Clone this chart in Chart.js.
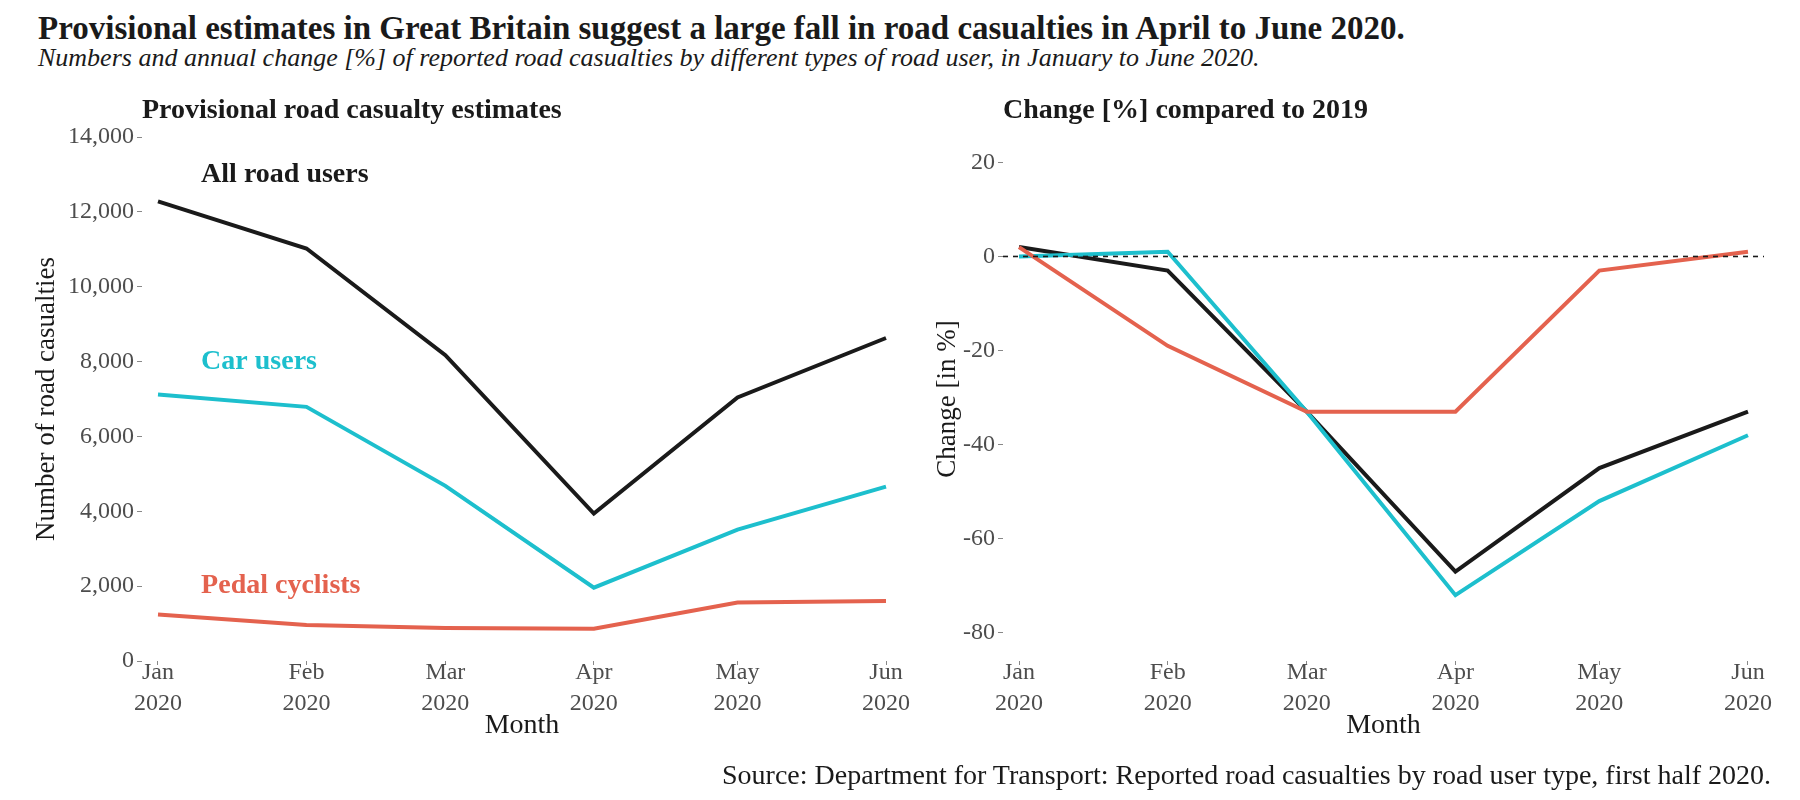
<!DOCTYPE html>
<html>
<head>
<meta charset="utf-8">
<title>Road casualties, January to June 2020</title>
<script src="https://cdn.jsdelivr.net/npm/chart.js@4.4.1/dist/chart.umd.min.js"></script>
<style>
  html, body { margin: 0; padding: 0; background: #fff; }
  #page { position: relative; width: 1800px; height: 800px; overflow: hidden;
          font-family: 'Liberation Serif', serif; color: #1a1a1a; }
  .title { position: absolute; left: 38px; top: 12px; font-size: 33px; line-height: 33px;
           font-weight: bold; white-space: nowrap; }
  .subtitle { position: absolute; left: 38px; top: 45px; font-size: 26px; line-height: 26px;
              font-style: italic; white-space: nowrap; }
  .caption { position: absolute; right: 29px; top: 761px; font-size: 28px; line-height: 28px;
             white-space: nowrap; }
  .panel { position: absolute; top: 0; height: 800px; }
</style>
</head>
<body>
<div id="page">
  <div class="title">Provisional estimates in Great Britain suggest a large fall in road casualties in April to June 2020.</div>
  <div class="subtitle">Numbers and annual change [%] of reported road casualties by different types of road user, in January to June 2020.</div>
  <div class="panel" style="left:0;width:925px"><canvas id="counts"></canvas></div>
  <div class="panel" style="left:925px;width:875px"><canvas id="change"></canvas></div>
  <div class="caption">Source: Department for Transport: Reported road casualties by road user type, first half 2020.</div>
</div>
<script>
// months on a day axis, so Feb (29 days in 2020) comes out a bit narrower
const months = ['Jan', 'Feb', 'Mar', 'Apr', 'May', 'Jun'];
const monthYear = '2020';
const monthDays = [0, 31, 60, 91, 121, 152];

const seriesNames = ['All road users', 'Car users', 'Pedal cyclists'];
const seriesColors = ['#1a1a1a', '#1dbfcd', '#e4624e'];

// number of reported casualties
const casualtiesAll = [12280, 11020, 8170, 3940, 7040, 8630];
const casualtiesCar = [7120, 6790, 4680, 1960, 3510, 4660];
const casualtiesPedal = [1240, 960, 880, 860, 1560, 1600];

// change compared to 2019, in %
const changeAll = [2, -3, -33, -67, -45, -33];
const changeCar = [0, 1, -33, -72, -52, -38];
const changePedal = [2, -19, -33, -33, -3, 1];

const countTicks = [0, 2000, 4000, 6000, 8000, 10000, 12000, 14000];
const changeTicks = [-80, -60, -40, -20, 0, 20];

// direct labels in the left panel (day of year, casualties)
const labelDay = 9;
const labelValues = [13000, 8000, 2000];

Chart.defaults.font.family = "'Liberation Serif', serif";
Chart.defaults.animation = false;

const TICK_GREY = '#4d4d4d';

function toPoints(values) {
  return values.map((v, i) => ({x: monthDays[i], y: v}));
}

function buildDatasets(series) {
  return series.map((values, i) => ({
    label: seriesNames[i],
    data: toPoints(values),
    borderColor: seriesColors[i],
    backgroundColor: seriesColors[i],
    borderWidth: 4,
    pointRadius: 0,
    tension: 0,
    order: series.length - i
  }));
}

function monthAxis() {
  return {
    type: 'linear',
    min: -3.34,
    max: 155.34,
    afterBuildTicks: (scale) => {
      scale.ticks = monthDays.map((d) => ({value: d}));
    },
    afterFit: (scale) => {
      scale.height = 139;
    },
    ticks: {
      callback: (value) => [months[monthDays.indexOf(value)], monthYear],
      font: {size: 24, lineHeight: '31px'},
      color: TICK_GREY,
      padding: -7.5,
      maxRotation: 0,
      autoSkip: false
    },
    grid: {display: true, drawOnChartArea: false, drawTicks: true, tickLength: 4, tickColor: '#888'},
    border: {display: false},
    title: {display: true, text: 'Month', font: {size: 28}, color: '#1a1a1a', padding: {top: 0, bottom: 58}}
  };
}

function valueAxis({ticks, min, max, width, text, titlePad, format}) {
  return {
    type: 'linear',
    min,
    max,
    afterBuildTicks: (scale) => {
      scale.ticks = ticks.map((v) => ({value: v}));
    },
    afterFit: (scale) => {
      scale.width = width;
    },
    ticks: {callback: format, font: {size: 24}, color: TICK_GREY, padding: 3},
    grid: {display: true, drawOnChartArea: false, drawTicks: true, tickLength: 5, tickColor: '#888'},
    border: {display: false},
    title: {display: true, text, font: {size: 27}, color: '#1a1a1a', padding: {top: titlePad, bottom: 0}}
  };
}

function panelTitle(text) {
  return {
    display: true,
    text,
    align: 'start',
    fullSize: false,
    color: '#1a1a1a',
    font: {size: 28, weight: 'bold', lineHeight: 1.2},
    padding: {top: 94.2, bottom: 9.2}
  };
}

const seriesLabelPlugin = {
  id: 'seriesLabels',
  afterDatasetsDraw(chart) {
    const {ctx, scales: {x, y}} = chart;
    ctx.save();
    ctx.font = "bold 28px 'Liberation Serif', serif";
    ctx.textAlign = 'left';
    ctx.textBaseline = 'middle';
    seriesNames.forEach((name, i) => {
      ctx.fillStyle = seriesColors[i];
      ctx.fillText(name, x.getPixelForValue(labelDay), y.getPixelForValue(labelValues[i]));
    });
    ctx.restore();
  }
};

const zeroLinePlugin = {
  id: 'zeroLine',
  afterDatasetsDraw(chart) {
    const {ctx, chartArea, scales: {y}} = chart;
    const py = y.getPixelForValue(0);
    ctx.save();
    ctx.strokeStyle = '#1a1a1a';
    ctx.lineWidth = 1.6;
    ctx.setLineDash([5, 5]);
    ctx.beginPath();
    ctx.moveTo(chartArea.left, py);
    ctx.lineTo(chartArea.right, py);
    ctx.stroke();
    ctx.restore();
  }
};

new Chart(document.getElementById('counts'), {
  type: 'line',
  data: {datasets: buildDatasets([casualtiesAll, casualtiesCar, casualtiesPedal])},
  options: {
    responsive: true,
    maintainAspectRatio: false,
    layout: {padding: {left: 0, right: 23, top: 0, bottom: 0}},
    plugins: {
      legend: {display: false},
      tooltip: {enabled: false},
      title: panelTitle('Provisional road casualty estimates')
    },
    scales: {
      x: monthAxis(),
      y: valueAxis({
        ticks: countTicks, min: 0, max: 14000, width: 142,
        text: 'Number of road casualties', titlePad: 31,
        format: (v) => v.toLocaleString('en-US')
      })
    }
  },
  plugins: [seriesLabelPlugin]
});

new Chart(document.getElementById('change'), {
  type: 'line',
  data: {datasets: buildDatasets([changeAll, changeCar, changePedal])},
  options: {
    responsive: true,
    maintainAspectRatio: false,
    layout: {padding: {left: 0, right: 36, top: 0, bottom: 0}},
    plugins: {
      legend: {display: false},
      tooltip: {enabled: false},
      title: panelTitle('Change [%] compared to 2019')
    },
    scales: {
      x: monthAxis(),
      y: valueAxis({
        ticks: changeTicks, min: -86, max: 25.4, width: 78,
        text: 'Change [in %]', titlePad: 7,
        format: (v) => String(v)
      })
    }
  },
  plugins: [zeroLinePlugin]
});
</script>
</body>
</html>
